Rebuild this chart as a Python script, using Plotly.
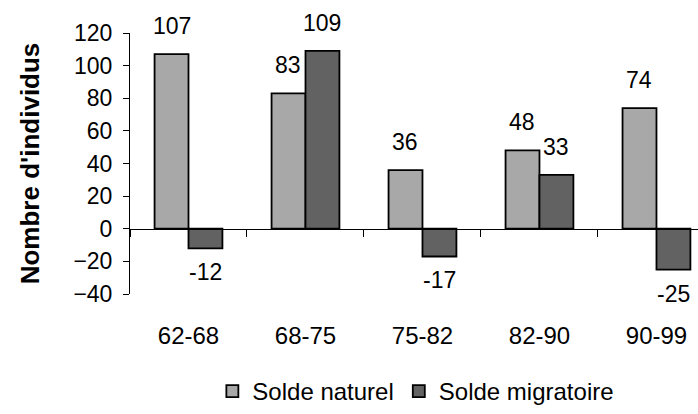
import plotly.graph_objects as go

periods = ["62-68", "68-75", "75-82", "82-90", "90-99"]
solde_naturel = [107, 83, 36, 48, 74]
solde_migratoire = [-12, 109, -17, 33, -25]
y_ticks = [-40, -20, 0, 20, 40, 60, 80, 100, 120]

FONT = "Liberation Sans, Arial, sans-serif"
C_NAT = "#a8a8a8"
C_MIG = "#626262"

fig = go.Figure()
fig.add_trace(go.Bar(x=periods, y=solde_naturel, name="Solde naturel",
                     marker=dict(color=C_NAT, line=dict(color="black", width=1.8))))
fig.add_trace(go.Bar(x=periods, y=solde_migratoire, name="Solde migratoire",
                     marker=dict(color=C_MIG, line=dict(color="black", width=1.8))))
# helper invisible trace to carry the zero-line axis with boundary ticks
fig.add_trace(go.Scatter(x=periods, y=solde_naturel, xaxis="x2", mode="markers",
                         marker=dict(opacity=0), showlegend=False, hoverinfo="skip"))

annotations = []
for p, v in zip(periods, solde_naturel):
    annotations.append(dict(x=p, y=v, xref="x", yref="y", text=str(v), showarrow=False,
                            xshift=-17, yshift=28 if v > 0 else -24,
                            font=dict(family=FONT, size=23, color="black")))
for p, v in zip(periods, solde_migratoire):
    annotations.append(dict(x=p, y=v, xref="x", yref="y", text=str(v), showarrow=False,
                            xshift=17, yshift=28 if v > 0 else -24,
                            font=dict(family=FONT, size=23, color="black")))

xrange = [-0.5, 4.355]
fig.update_layout(
    width=698, height=414,
    margin=dict(l=130, r=0, t=33, b=114),
    paper_bgcolor="white", plot_bgcolor="white",
    barmode="group", bargap=0.42, bargroupgap=0,
    font=dict(family=FONT, color="black"),
    showlegend=True,
    legend=dict(orientation="h", x=0.145, xanchor="left", y=-0.375, yanchor="middle",
                font=dict(family=FONT, size=24, color="black"), itemclick=False,
                tracegroupgap=0),
    annotations=annotations,
    xaxis=dict(type="category", categoryarray=periods, range=xrange,
               showline=False, ticks="", showgrid=False, zeroline=False,
               tickfont=dict(family=FONT, size=24, color="black"), ticklabelstandoff=25),
    xaxis2=dict(type="category", categoryarray=periods, range=xrange,
                overlaying="x", anchor="free", position=0.25,
                showline=True, linecolor="black", linewidth=1,
                ticks="outside", ticklen=7, tickcolor="black", tickson="boundaries",
                showticklabels=False, showgrid=False, zeroline=False),
    yaxis=dict(range=[-40, 120], tickvals=y_ticks, showline=True, linecolor="black",
               linewidth=1, ticks="outside", ticklen=6, tickcolor="black",
               showgrid=False, zeroline=False, ticklabelstandoff=6,
               tickfont=dict(family=FONT, size=23, color="black"),
               title=dict(text="<b>Nombre d'individus</b>", standoff=26,
                          font=dict(family=FONT, size=26, color="black"))),
)

fig.write_html("out.html")
